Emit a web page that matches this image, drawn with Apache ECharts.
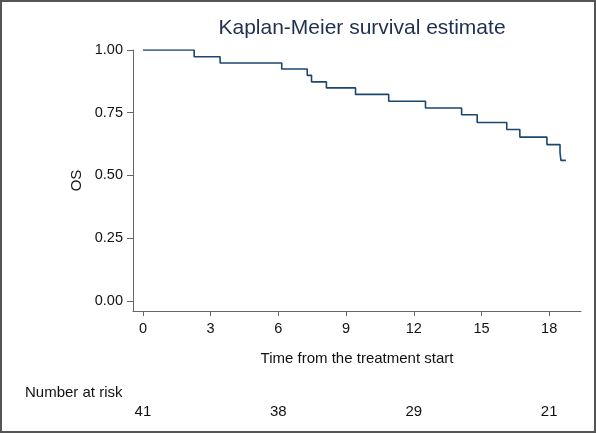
<!DOCTYPE html>
<html>
<head>
<meta charset="utf-8">
<script src="https://cdn.jsdelivr.net/npm/echarts@6/dist/echarts.min.js"></script>
<style>
html,body{margin:0;padding:0;background:#fff;}
#chart{width:596px;height:433px;}
</style>
</head>
<body>
<div id="chart"></div>
<script>
// Kaplan-Meier step data (time, survival)
var times    = [0, 2.27, 3.42, 6.15, 7.28, 7.47, 8.13, 9.42, 10.89, 12.52, 14.12, 14.81, 16.12, 16.7, 17.9, 18.48, 18.52, 18.74];
var survival = [1.0, 0.973, 0.948, 0.924, 0.899, 0.873, 0.849, 0.823, 0.796, 0.769, 0.742, 0.711, 0.683, 0.653, 0.623, 0.592, 0.56, 0.56];
var xTicks = [0, 3, 6, 9, 12, 15, 18];
var yTicks = [0, 0.25, 0.5, 0.75, 1.0];
var riskTimes  = [0, 6, 12, 18];
var riskCounts = [41, 38, 29, 21];

var font = '"Liberation Sans", Arial, sans-serif';
var axisCol = '#666666';
var txtCol = '#111111';

var lineData = times.map(function (t, i) { return [t, survival[i]]; });

var chart = echarts.init(document.getElementById('chart'), null, {renderer: 'canvas'});
chart.setOption({
  animation: false,
  backgroundColor: '#ffffff',
  title: {
    text: 'Kaplan-Meier survival estimate',
    left: 357, top: 13, textAlign: 'center',
    textStyle: {fontFamily: font, fontSize: 21, fontWeight: 'normal', color: '#1e2f4f'}
  },
  graphic: [
    {type: 'rect', shape: {x: 1, y: 1, width: 594, height: 431},
     style: {fill: 'none', stroke: '#555555', lineWidth: 2}, silent: true},
    {type: 'text', left: 25, top: 385,
     style: {text: 'Number at risk', fontFamily: font, fontSize: 15, fill: txtCol}}
  ],
  grid: [
    {left: 133, right: 15, top: 50, bottom: 122},
    {left: 133, right: 15, top: 392, height: 10}
  ],
  xAxis: [
    {
      gridIndex: 0, type: 'value', min: -0.44, max: 19.41,
      name: 'Time from the treatment start', nameLocation: 'middle', nameGap: 40,
      nameTextStyle: {fontFamily: font, fontSize: 15, color: txtCol},
      axisLine: {show: true, onZero: false, lineStyle: {color: axisCol, width: 1}},
      axisTick: {show: true, length: 5, lineStyle: {color: axisCol}, customValues: xTicks},
      axisLabel: {fontFamily: font, fontSize: 14.5, color: txtCol, margin: 10, customValues: xTicks,
        formatter: function (v) { return String(v); }},
      splitLine: {show: false}
    },
    {
      gridIndex: 1, type: 'value', min: -0.44, max: 19.41,
      axisLine: {show: false, onZero: false}, axisTick: {show: false},
      axisLabel: {fontFamily: font, fontSize: 15, color: txtCol, margin: 2, customValues: riskTimes,
        formatter: function (v) {
          var i = riskTimes.indexOf(v);
          return i >= 0 ? String(riskCounts[i]) : '';
        }},
      splitLine: {show: false}
    }
  ],
  yAxis: [
    {
      gridIndex: 0, type: 'value', min: -0.04, max: 1.0,
      name: 'OS', nameLocation: 'middle', nameGap: 49, nameRotate: 90,
      nameTextStyle: {fontFamily: font, fontSize: 15, color: txtCol},
      axisLine: {show: true, onZero: false, lineStyle: {color: axisCol, width: 1}},
      axisTick: {show: true, length: 6, lineStyle: {color: axisCol}, customValues: yTicks},
      axisLabel: {fontFamily: font, fontSize: 14.5, color: txtCol, margin: 10, customValues: yTicks,
        formatter: function (v) { return v.toFixed(2); }},
      splitLine: {show: false}
    },
    {
      gridIndex: 1, type: 'value', min: 0, max: 1, show: false
    }
  ],
  series: [
    {
      type: 'line', xAxisIndex: 0, yAxisIndex: 0,
      step: 'end', data: lineData, showSymbol: false, symbol: 'none',
      lineStyle: {color: '#1a476f', width: 1.6}
    }
  ]
});
</script>
</body>
</html>
